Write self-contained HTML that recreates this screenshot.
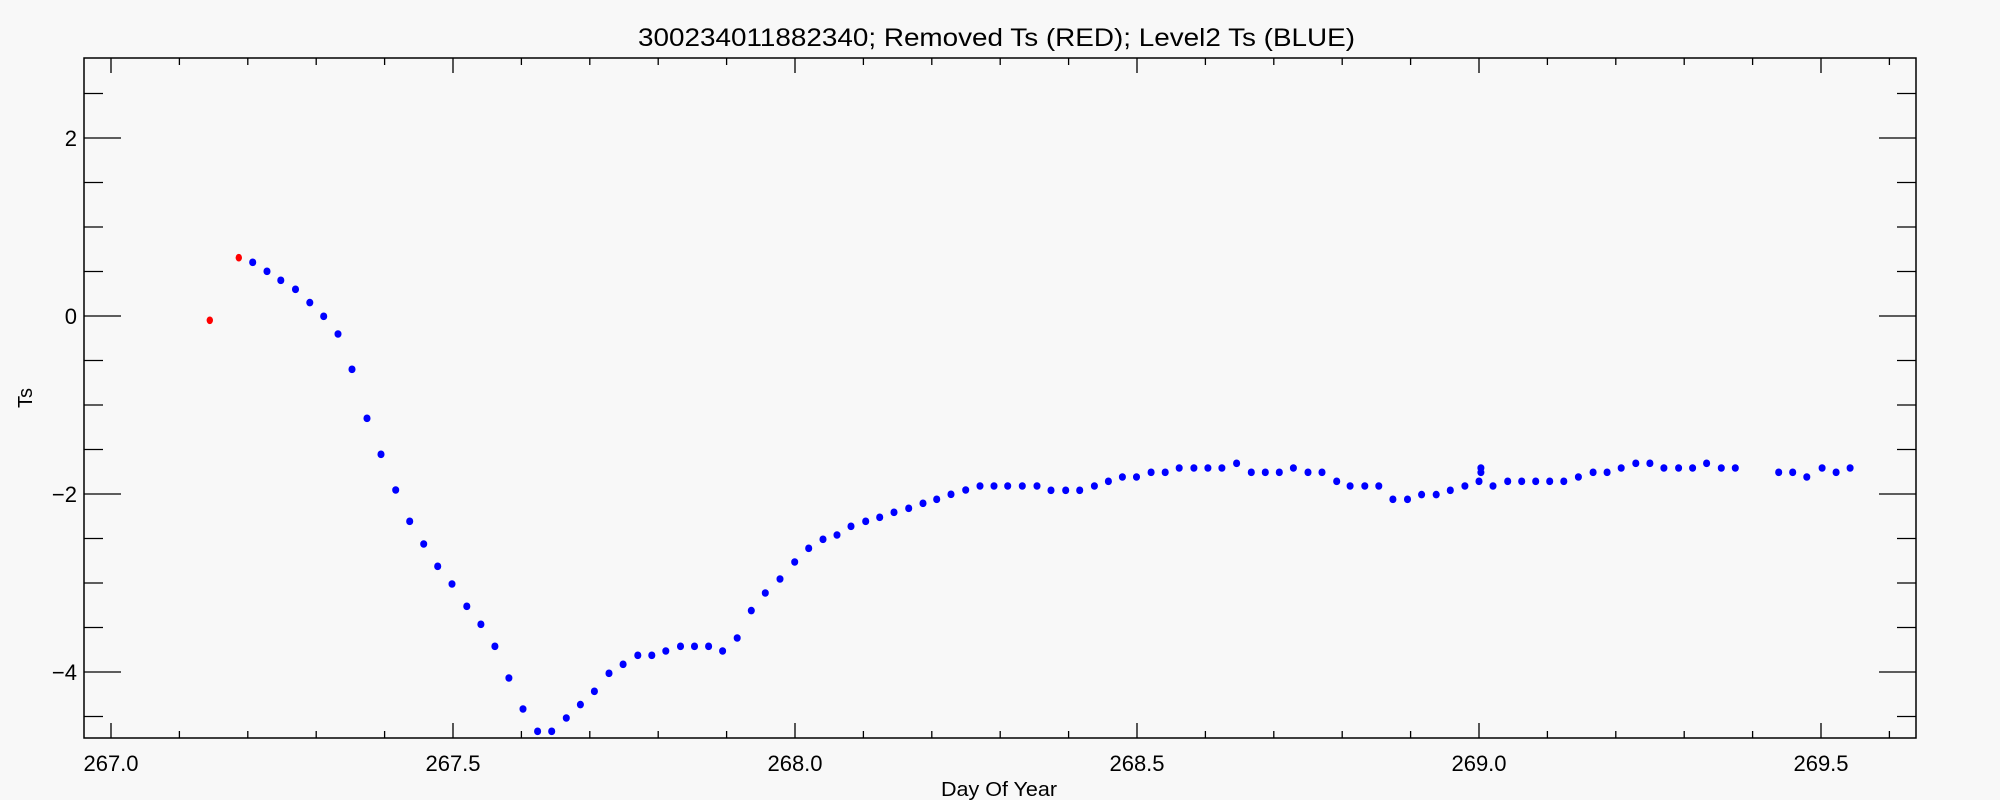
<!DOCTYPE html>
<html><head><meta charset="utf-8"><style>html,body{margin:0;padding:0;background:#f8f8f8}svg{display:block}</style></head>
<body>
<svg width="2000" height="800" xmlns="http://www.w3.org/2000/svg" font-family="Liberation Sans, sans-serif">
<rect width="2000" height="800" fill="#f8f8f8"/>
<text x="638" y="46" font-size="25" textLength="717" lengthAdjust="spacingAndGlyphs">300234011882340; Removed Ts (RED); Level2 Ts (BLUE)</text>
<rect x="84" y="58" width="1832" height="680" fill="none" stroke="#000" stroke-width="1.5"/>
<path stroke="#000" stroke-width="1.3" fill="none" d="
M111 738v-15M179.4 738v-7M247.8 738v-7M316.2 738v-7M384.6 738v-7M453 738v-15M521.4 738v-7M589.8 738v-7M658.2 738v-7M726.6 738v-7M795 738v-15M863.4 738v-7M931.8 738v-7M1000.2 738v-7M1068.6 738v-7M1137 738v-15M1205.4 738v-7M1273.8 738v-7M1342.2 738v-7M1410.6 738v-7M1479 738v-15M1547.4 738v-7M1615.8 738v-7M1684.2 738v-7M1752.6 738v-7M1821 738v-15M1889.4 738v-7
M111 58v15M179.4 58v7M247.8 58v7M316.2 58v7M384.6 58v7M453 58v15M521.4 58v7M589.8 58v7M658.2 58v7M726.6 58v7M795 58v15M863.4 58v7M931.8 58v7M1000.2 58v7M1068.6 58v7M1137 58v15M1205.4 58v7M1273.8 58v7M1342.2 58v7M1410.6 58v7M1479 58v15M1547.4 58v7M1615.8 58v7M1684.2 58v7M1752.6 58v7M1821 58v15M1889.4 58v7
M84 93.5h19M84 138h37M84 182.5h19M84 227h19M84 271.5h19M84 316h37M84 360.5h19M84 405h19M84 449.5h19M84 494h37M84 538.5h19M84 583h19M84 627.5h19M84 672h37M84 716.5h19
M1916 93.5h-19M1916 138h-37M1916 182.5h-19M1916 227h-19M1916 271.5h-19M1916 316h-37M1916 360.5h-19M1916 405h-19M1916 449.5h-19M1916 494h-37M1916 538.5h-19M1916 583h-19M1916 627.5h-19M1916 672h-37M1916 716.5h-19"/>
<g font-size="22" text-anchor="middle">
<text x="111" y="771">267.0</text><text x="453" y="771">267.5</text><text x="795" y="771">268.0</text>
<text x="1137" y="771">268.5</text><text x="1479" y="771">269.0</text><text x="1821" y="771">269.5</text>
</g>
<g font-size="22" text-anchor="end">
<text x="77" y="146">2</text><text x="77" y="324">0</text><text x="77" y="502">−2</text><text x="77" y="680">−4</text>
</g>
<text x="999" y="796" font-size="20" text-anchor="middle" textLength="116" lengthAdjust="spacingAndGlyphs">Day Of Year</text>
<text transform="translate(32,398) rotate(-90)" font-size="20" text-anchor="middle">Ts</text>
<g fill="#f00"><ellipse cx="209.8" cy="320.3" rx="3.2" ry="3.8"/><ellipse cx="238.8" cy="257.7" rx="3.2" ry="3.8"/></g>
<path stroke="#0000ff" stroke-width="7" stroke-linecap="round" fill="none" d="
M252.7 262v0.6M267 271v0.6M280.8 280v0.6M295.5 289v0.6M309.8 302.3v0.6M323.7 316v0.6M338 333.7v0.6M352 369v0.6M367 418v0.6M381 454v0.6M395.7 489.7v0.6M409.7 521v0.6M423.7 543.7v0.6M437.7 566v0.6M452 583.7v0.6M466.8 606v0.6M480.9 624v0.6M494.9 646v0.6M508.9 677.7v0.6M523 708.7v0.6M537.6 731v0.6M551.7 731v0.6M566.3 717.7v0.6M580.4 704.3v0.6M594.4 691v0.6M609 673v0.6M623.1 664v0.6M637.8 655v0.6M651.8 655v0.6M665.8 650.7v0.6M680.5 646v0.6M694.5 646v0.6M708.6 646v0.6M722.6 650.7v0.6M737.2 637.7v0.6M751.3 610.3v0.6M765.3 592.7v0.6M780 578.7v0.6M794.7 561.7v0.6M808.7 548v0.6M823 539v0.6M837 534.7v0.6M851 526v0.6M865.7 521v0.6M879.7 517v0.6M894 512v0.6M908.7 508v0.6M923 503v0.6M936.7 499v0.6M951 494v0.6M965.7 489.7v0.6M980 485.7v0.6M994 485.7v0.6
M1007.7 485.7v0.6M1022.3 485.7v0.6M1037 485.7v0.6M1051 490v0.6M1065.7 490v0.6M1079.7 490v0.6M1094.4 485.7v0.6M1108.4 481v0.6M1122.4 476.7v0.6M1136.5 476.7v0.6M1151.1 472v0.6M1165.2 472v0.6M1179.2 467.7v0.6M1193.9 467.7v0.6M1207.9 467.7v0.6M1221.9 467.7v0.6M1236.6 463v0.6M1251.3 472v0.6M1265.3 472v0.6M1279.3 472v0.6M1293.4 467.7v0.6M1308 472v0.6M1322 472v0.6M1336.7 481v0.6M1350.1 485.7v0.6M1364.8 485.7v0.6M1378.8 485.7v0.6M1392.9 499v0.6M1407.5 499v0.6M1421.6 494.3v0.6M1436.2 494.3v0.6M1450.3 490v0.6M1464.9 485.7v0.6M1479 481v0.6M1480.9 467.7v0.6M1480.9 472v0.6M1493 485.7v0.6M1507.7 481v0.6M1521.7 481v0.6M1535.7 481v0.6M1549.7 481v0.6M1563.8 481v0.6M1578.4 476.7v0.6M1593.1 472v0.6M1607.1 472v0.6M1621.2 467.7v0.6M1635.8 463v0.6M1649.9 463v0.6M1663.9 467.7v0.6M1678.6 467.7v0.6M1692.6 467.7v0.6M1706.6 463v0.6M1721.3 467.7v0.6M1735.3 467.7v0.6M1778.7 472v0.6M1792.7 472v0.6M1806.8 476.7v0.6M1822.1 467.7v0.6M1836.1 472v0.6M1850.1 467.7v0.6"/>
</svg>
</body></html>
